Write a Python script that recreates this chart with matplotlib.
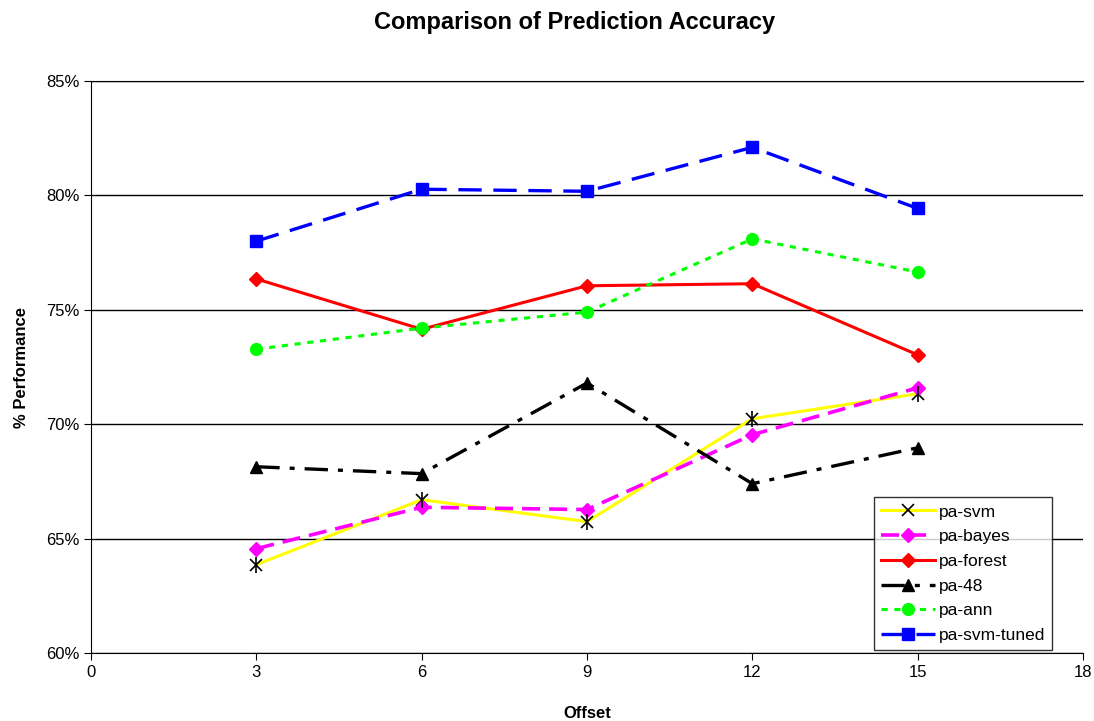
"""
Recreate the 'Comparison of Prediction Accuracy' line chart.
"""

import matplotlib
matplotlib.use("Agg")
import matplotlib.pyplot as plt
from matplotlib.ticker import FuncFormatter

plt.rcParams["font.family"] = ["Liberation Sans", "DejaVu Sans"]

offsets = [3, 6, 9, 12, 15]

pa_svm = [63.86, 66.70, 65.74, 70.24, 71.33]
pa_bayes = [64.56, 66.37, 66.27, 69.54, 71.59]
pa_forest = [76.35, 74.15, 76.05, 76.14, 73.03]
pa_48 = [68.14, 67.84, 71.80, 67.40, 68.97]
pa_ann = [73.28, 74.20, 74.90, 78.10, 76.65]
pa_svm_tuned = [78.00, 80.27, 80.18, 82.10, 79.43]


def main() -> None:
    fig = plt.figure(figsize=(10.94, 7.21), dpi=100)
    ax = fig.add_axes([91 / 1094, 1 - 653 / 721, (1083 - 91) / 1094, (653 - 81) / 721])

    # Excel "star" marker: an x with a vertical bar through it
    ax.plot(offsets, pa_svm, color="#ffff00", lw=2.2, marker="x", ms=9,
            mec="black", mew=1.2, label="pa-svm", zorder=3)
    ax.plot(offsets, pa_svm, ls="none", marker="|", ms=11, mec="black",
            mew=1.2, zorder=4)
    ax.plot(offsets, pa_bayes, color="#ff00ff", lw=2.6, ls=(0, (5, 2.5)),
            marker="D", ms=7.5, label="pa-bayes", zorder=3)
    ax.plot(offsets, pa_forest, color="#ff0000", lw=2.2, marker="D", ms=7,
            label="pa-forest", zorder=3)
    ax.plot(offsets, pa_48, color="black", lw=2.4, ls=(0, (7, 3, 1.5, 3)),
            marker="^", ms=8.5, label="pa-48", zorder=3)
    ax.plot(offsets, pa_ann, color="#00ff00", lw=2.2, ls=(0, (2, 2.2)),
            marker="o", ms=8.5, label="pa-ann", zorder=3)
    ax.plot(offsets, pa_svm_tuned, color="#0000ff", lw=2.4, ls=(0, (7, 3.5)),
            marker="s", ms=8, label="pa-svm-tuned", zorder=3)

    ax.set_xlim(0, 18)
    ax.set_ylim(60, 85)
    ax.set_xticks(range(0, 19, 3))
    ax.set_yticks(range(60, 86, 5))
    ax.yaxis.set_major_formatter(FuncFormatter(lambda v, p: f"{v:.0f}%"))
    ax.tick_params(direction="out", length=5, labelsize=12, color="black")
    ax.grid(True, axis="y", color="black", lw=1)
    ax.set_axisbelow(True)
    ax.spines["right"].set_visible(False)

    ax.set_xlabel("Offset", fontsize=12, fontweight="bold", labelpad=19)
    ax.set_ylabel("% Performance", fontsize=12, fontweight="bold", labelpad=12)
    fig.text(0.525, 1 - 22 / 721, "Comparison of Prediction Accuracy",
             ha="center", va="center", fontsize=17, fontweight="bold")

    leg = ax.legend(loc="lower right",
                    bbox_to_anchor=(1052 / 1094, 1 - 650 / 721),
                    bbox_transform=fig.transFigure,
                    fontsize=12.5, frameon=True, fancybox=False,
                    edgecolor="black", handlelength=3.1, borderaxespad=0.0,
                    borderpad=0.4, labelspacing=0.55, handletextpad=0.2)
    leg.get_frame().set_linewidth(1)

    fig.savefig("out.png", dpi=100)


if __name__ == "__main__":
    main()
